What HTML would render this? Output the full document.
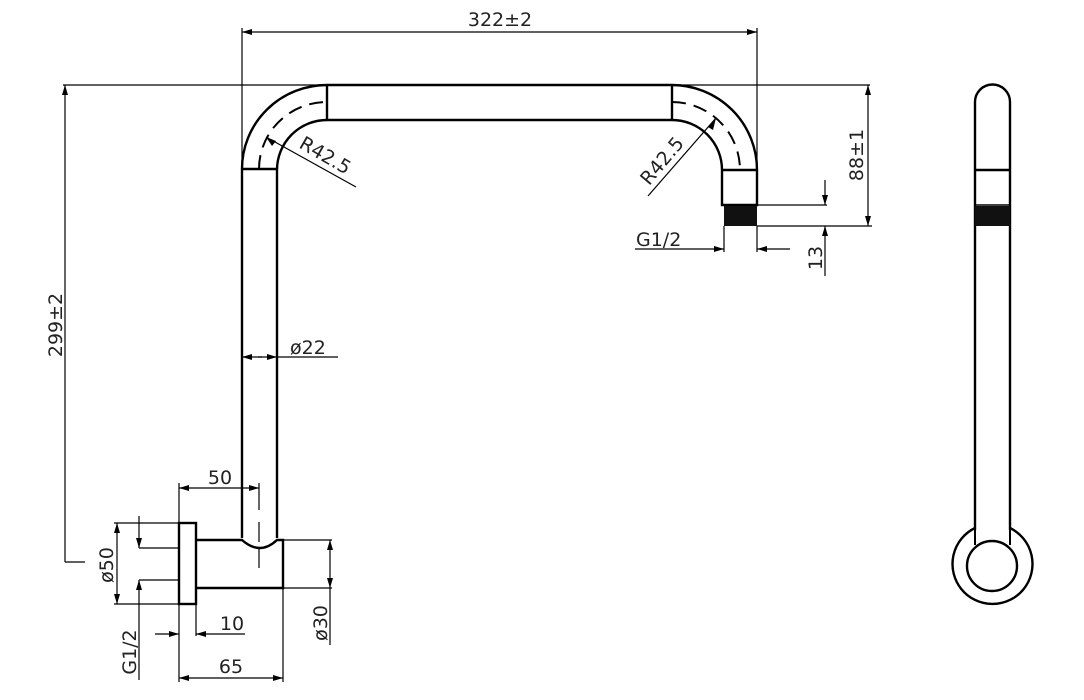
<!DOCTYPE html>
<html><head><meta charset="utf-8"><style>
html,body{margin:0;padding:0;background:#fff;}
svg{display:block}
text{font-family:"DejaVu Sans","Liberation Sans",sans-serif;font-size:19px;fill:#222;}
</style></head><body>
<svg width="1084" height="700" viewBox="0 0 1084 700" xmlns="http://www.w3.org/2000/svg">
<defs>
<marker id="a" viewBox="0 0 10 6" refX="10" refY="3" markerWidth="10" markerHeight="6" markerUnits="userSpaceOnUse" orient="auto"><path d="M0,0 L10,3 L0,6 z" fill="#000"/></marker>
</defs>
<g stroke="#000" fill="none" stroke-width="1.2">
<line x1="63" y1="85" x2="870" y2="85"/>
<line x1="242" y1="28" x2="242" y2="170"/>
<line x1="757" y1="28" x2="757" y2="170"/>
<line x1="500" y1="32" x2="242" y2="32" marker-end="url(#a)"/>
<line x1="500" y1="32" x2="757" y2="32" marker-end="url(#a)"/>
<line x1="65" y1="562" x2="65" y2="85" marker-end="url(#a)"/>
<line x1="65" y1="562" x2="85" y2="562"/>
<line x1="868" y1="150" x2="868" y2="226" marker-end="url(#a)"/>
<line x1="868" y1="150" x2="868" y2="85" marker-end="url(#a)"/>
<line x1="757" y1="205" x2="827" y2="205"/>
<line x1="757" y1="226" x2="872" y2="226"/>
<line x1="825" y1="180" x2="825" y2="205" marker-end="url(#a)"/>
<line x1="825" y1="276" x2="825" y2="226" marker-end="url(#a)"/>
<line x1="724" y1="226" x2="724" y2="252"/>
<line x1="757" y1="226" x2="757" y2="252"/>
<line x1="635" y1="249" x2="724" y2="249" marker-end="url(#a)"/>
<line x1="790" y1="249" x2="757" y2="249" marker-end="url(#a)"/>
<line x1="262" y1="357" x2="242" y2="357" marker-end="url(#a)"/>
<line x1="258" y1="357" x2="277" y2="357" marker-end="url(#a)"/>
<line x1="277" y1="357" x2="338" y2="357"/>
<line x1="356" y1="187" x2="266" y2="137"/>
<line x1="648" y1="196" x2="716" y2="118"/>
<line x1="179" y1="483" x2="179" y2="682"/>
<line x1="259" y1="483" x2="259" y2="510"/>
<line x1="259" y1="522" x2="259" y2="568" stroke-dasharray="20 7"/>
<line x1="200" y1="488" x2="179" y2="488" marker-end="url(#a)"/>
<line x1="200" y1="488" x2="259" y2="488" marker-end="url(#a)"/>
<line x1="114" y1="523" x2="179" y2="523"/>
<line x1="114" y1="604" x2="179" y2="604"/>
<line x1="117" y1="560" x2="117" y2="523" marker-end="url(#a)"/>
<line x1="117" y1="560" x2="117" y2="604" marker-end="url(#a)"/>
<line x1="139" y1="548" x2="179" y2="548"/>
<line x1="139" y1="580" x2="179" y2="580"/>
<line x1="139" y1="516" x2="139" y2="548" marker-end="url(#a)"/>
<line x1="139" y1="680" x2="139" y2="580" marker-end="url(#a)"/>
<line x1="196" y1="604" x2="196" y2="636"/>
<line x1="155" y1="634" x2="179" y2="634" marker-end="url(#a)"/>
<line x1="245" y1="634" x2="196" y2="634" marker-end="url(#a)"/>
<line x1="283" y1="588" x2="283" y2="682"/>
<line x1="230" y1="678" x2="179" y2="678" marker-end="url(#a)"/>
<line x1="230" y1="678" x2="283" y2="678" marker-end="url(#a)"/>
<line x1="283" y1="540" x2="332" y2="540"/>
<line x1="283" y1="588" x2="332" y2="588"/>
<line x1="330" y1="565" x2="330" y2="540" marker-end="url(#a)"/>
<line x1="330" y1="565" x2="330" y2="588" marker-end="url(#a)"/>
<line x1="330" y1="588" x2="330" y2="645"/>
</g>
<g stroke="#000" fill="none" stroke-width="2.4">
<path d="M242,538 L242,169 A85,84 0 0 1 327,85 L672,85 A85,85 0 0 1 757,170 L757,205 L722,205 L722,170 A50,50 0 0 0 672,120 L327,120 A50,50 0 0 0 277,170 L277,538"/>
<line x1="327" y1="85" x2="327" y2="120"/>
<line x1="672" y1="85" x2="672" y2="120"/>
<line x1="242" y1="169" x2="277" y2="169"/>
<line x1="722" y1="170" x2="757" y2="170"/>
<path d="M259,169 A68,67 0 0 1 327,102" stroke-dasharray="14 8" stroke-width="2"/>
<path d="M672,102 A68,68 0 0 1 740,170" stroke-dasharray="14 8" stroke-width="2"/>
<rect x="179" y="523" width="17" height="81"/>
<path d="M196,540 L242,540 Q260,556 277,540 L283,540 L283,588 L196,588"/>
<path d="M975,530 L975,102 A17.5,17.5 0 0 1 1010,102 L1010,530"/>
<line x1="975" y1="170" x2="1010" y2="170"/>
<line x1="975" y1="530" x2="975" y2="545" stroke-width="2"/>
<line x1="1010" y1="530" x2="1010" y2="545" stroke-width="2"/>
<path d="M975,528 A40,40 0 1 0 1010,528"/>
<circle cx="992" cy="566" r="25"/>
</g>
<rect x="724" y="206" width="33" height="20" fill="#111"/>
<rect x="975" y="206" width="35" height="20" fill="#111"/>
<line x1="975" y1="205" x2="1010" y2="205" stroke="#000" stroke-width="1.5"/>
<path d="M276,141 L266,137 L272,146 z" fill="#000"/>
<path d="M708,127 L716,118 L713,130 z" fill="#000"/>
<text x="500" y="26" text-anchor="middle">322±2</text>
<text transform="translate(62,325) rotate(-90)" text-anchor="middle">299±2</text>
<text transform="translate(863,155) rotate(-90)" text-anchor="middle">88±1</text>
<text transform="translate(822,258) rotate(-90)" text-anchor="middle">13</text>
<text x="636" y="246">G1/2</text>
<text x="290" y="354">ø22</text>
<text transform="translate(322,161) rotate(30)" text-anchor="middle">R42.5</text>
<text transform="translate(667,165) rotate(-50)" text-anchor="middle">R42.5</text>
<text x="220" y="484" text-anchor="middle">50</text>
<text transform="translate(113,565) rotate(-90)" text-anchor="middle">ø50</text>
<text transform="translate(136,652) rotate(-90)" text-anchor="middle">G1/2</text>
<text x="232" y="630" text-anchor="middle">10</text>
<text x="231" y="673" text-anchor="middle">65</text>
<text transform="translate(327,623) rotate(-90)" text-anchor="middle">ø30</text>
</svg>
</body></html>
